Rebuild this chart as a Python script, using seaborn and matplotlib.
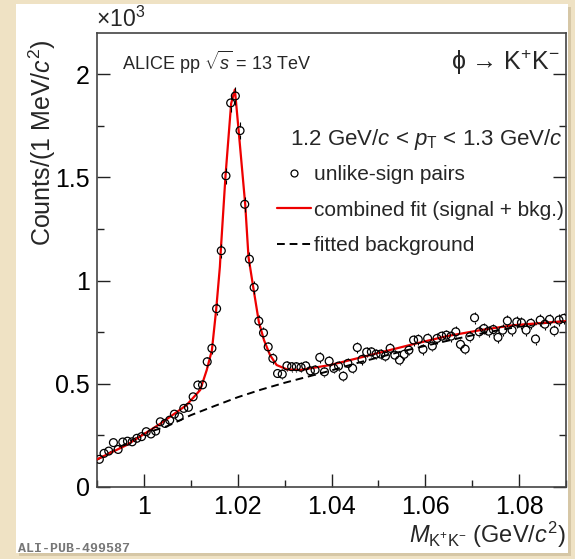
import numpy as np
import pandas as pd
import matplotlib
matplotlib.use("Agg")
import matplotlib.pyplot as plt
import seaborn as sns
from matplotlib.lines import Line2D
from matplotlib.patches import Rectangle
from matplotlib.ticker import MultipleLocator, FuncFormatter

# ---------------- data ----------------
hist_range = (0.99, 1.09)          # GeV/c^2, 1 MeV bins
counts = [134, 163, 174, 215, 182, 218, 222, 219, 236, 244,
          268, 257, 271, 316, 308, 324, 353, 340, 381, 386,
          437, 494, 495, 607, 672, 864, 1145, 1508, 1861, 1895,
          1727, 1370, 1104, 967, 804, 747, 679, 623, 550, 547,
          587, 583, 583, 580, 587, 563, 567, 628, 558, 610,
          575, 586, 537, 599, 575, 676, 618, 654, 655, 644,
          644, 634, 672, 639, 615, 643, 663, 712, 715, 667,
          720, 683, 720, 731, 736, 731, 752, 691, 668, 728,
          820, 752, 768, 755, 763, 725, 760, 805, 760, 800,
          796, 760, 793, 717, 809, 789, 812, 757, 809, 817]

fit_mass = [0.9900, 0.9963, 1.0034, 1.0091, 1.0120, 1.0134, 1.0145, 1.0154,
            1.0162, 1.0164, 1.0174, 1.0186, 1.0194, 1.0202, 1.0216, 1.0223,
            1.0233, 1.0245, 1.0256, 1.0269, 1.0283, 1.0305, 1.0333, 1.0397,
            1.0468, 1.0574, 1.0646, 1.0717, 1.0788, 1.0900]
fit_counts = [134, 203, 305, 397, 470, 567, 663, 857,
              1067, 1148, 1508, 1858, 1926, 1727, 1370, 1115,
              970, 801, 712, 639, 591, 570, 567, 591,
              631, 692, 731, 760, 784, 804]

bkg_mass = [0.990, 0.995, 1.000, 1.005, 1.010, 1.015, 1.020, 1.025, 1.030,
            1.035, 1.040, 1.045, 1.050, 1.055, 1.060, 1.065, 1.070, 1.075,
            1.080, 1.085, 1.090]
bkg_counts = [132, 195, 258, 295, 348, 392, 435, 472, 505,
              535, 565, 598, 628, 657, 684, 710, 735, 757,
              777, 793, 804]

# ---------------- style ----------------
sns.set_theme(style="ticks")
plt.rcParams['font.family'] = ['Liberation Sans', 'DejaVu Sans']
plt.rcParams['mathtext.fontset'] = 'custom'
plt.rcParams['mathtext.rm'] = 'Liberation Sans'
plt.rcParams['mathtext.it'] = 'Liberation Sans:italic'
plt.rcParams['mathtext.bf'] = 'Liberation Sans:bold'

W, H = 575, 559
fig = plt.figure(figsize=(W / 100, H / 100), dpi=100)
fig.patch.set_facecolor('#efe2c4')

def fx(px):
    return px / W

def fy(py):
    return 1 - py / H

def axx(px):
    return (px - 97) / 469

def axy(py):
    return (487 - py) / 454

# shadow + white panel
fig.add_artist(Rectangle((fx(19), fy(556)), fx(552), 549 / H, transform=fig.transFigure,
                         facecolor='#d6c7a6', edgecolor='none', zorder=0))
fig.add_artist(Rectangle((fx(16), fy(553)), fx(552), 549 / H, transform=fig.transFigure,
                         facecolor='white', edgecolor='none', zorder=0))

ax = fig.add_axes([fx(97), fy(487), fx(566 - 97), (487 - 33) / H])
ax.set_facecolor('white')

edges = np.linspace(hist_range[0], hist_range[1], len(counts) + 1)
centers = 0.5 * (edges[:-1] + edges[1:])
df = pd.DataFrame({'mass': centers, 'counts': counts})

ax.set_xlim(*hist_range)
ax.set_ylim(0, 2200)

# fit curves
sns.lineplot(x=bkg_mass, y=bkg_counts, ax=ax, color='black', linewidth=1.4,
             estimator=None, sort=False, zorder=3)
ax.lines[-1].set_linestyle((0, (4, 2.5)))
sns.lineplot(x=fit_mass, y=fit_counts, ax=ax, color='#ee0000', linewidth=1.6,
             estimator=None, sort=False, zorder=4)

# error bars outside the open markers (Poisson)
fig.canvas.draw()
px_per_count = ax.transData.transform((1.0, 1.0))[1] - ax.transData.transform((1.0, 0.0))[1]
r = 4.0 / px_per_count
err = np.sqrt(df['counts'].values)
yv = df['counts'].values
mask = err > r
ax.vlines(df['mass'].values[mask], yv[mask] + r, yv[mask] + err[mask], color='black', lw=0.8, zorder=5)
ax.vlines(df['mass'].values[mask], yv[mask] - err[mask], yv[mask] - r, color='black', lw=0.8, zorder=5)

sns.scatterplot(data=df, x='mass', y='counts', ax=ax, marker='o', s=32,
                facecolor='none', edgecolor='black', linewidth=0.9, zorder=6)

# axes formatting
ax.xaxis.set_major_locator(MultipleLocator(0.02))
ax.xaxis.set_minor_locator(MultipleLocator(0.01))
ax.xaxis.set_major_formatter(FuncFormatter(lambda v, p: f"{v:g}"))
ax.yaxis.set_major_locator(MultipleLocator(500))
ax.yaxis.set_minor_locator(MultipleLocator(250))
ax.yaxis.set_major_formatter(FuncFormatter(lambda v, p: f"{v/1000:g}"))
ax.tick_params(axis='both', which='both', direction='in', colors='#222222', labelcolor='black')
ax.tick_params(axis='both', which='major', length=9.5, width=1.0, labelsize=18)
ax.tick_params(axis='both', which='minor', length=5, width=1.0)
ax.tick_params(axis='y', which='both', left=True, right=True)
ax.tick_params(axis='x', which='both', top=False, bottom=True, pad=6)
ax.tick_params(axis='y', which='both', pad=5)
for s in ax.spines.values():
    s.set_color('#444444')
    s.set_linewidth(1.2)

ax.set_xlabel(r"$M_{\mathrm{K^{+}K^{-}}}$ (GeV/$c^{2}$)", fontsize=17, loc='right')
ax.xaxis.set_label_coords(1.0, -0.072)
ax.set_ylabel(r"Counts/(1 MeV/$c^{2}$)", fontsize=18, loc='top')
ax.yaxis.set_label_coords(-0.083, 0.985)

# texts
fig.text(fx(96), fy(19), r"$\times$10$^{3}$", fontsize=16.5, ha='left', va='center')
ax.text(axx(122), axy(62), r"ALICE pp $\sqrt{s}$ = 13 TeV",
        transform=ax.transAxes, fontsize=13, ha='left', va='center')
ax.text(axx(560), axy(62), r"ϕ → K$^{+}$K$^{-}$",
        transform=ax.transAxes, fontsize=18, ha='right', va='center')
ax.text(axx(563), axy(139),
        r"1.2 GeV/$c$ < $p_{\mathrm{T}}$ < 1.3 GeV/$c$",
        transform=ax.transAxes, fontsize=16, ha='right', va='center')

handles = [Line2D([], [], marker='o', ls='none', mfc='none', mec='black', ms=5, mew=0.9),
           Line2D([], [], color='#ee0000', lw=1.6),
           Line2D([], [], color='black', lw=1.4, ls=(0, (4, 2.5)))]
labels = ['unlike-sign pairs', 'combined fit (signal + bkg.)', 'fitted background']
leg = ax.legend(handles, labels, loc='upper left', frameon=False, fontsize=15,
                bbox_to_anchor=(axx(269), axy(157)),
                handlelength=1.6, handletextpad=0.18, labelspacing=0.78, borderaxespad=0)

fig.text(fx(18), fy(549), "ALI-PUB-499587", fontsize=9.5, family='Liberation Mono',
         color='#777777', weight='bold', ha='left', va='center')

fig.savefig("out.png", dpi=100, facecolor=fig.get_facecolor())
